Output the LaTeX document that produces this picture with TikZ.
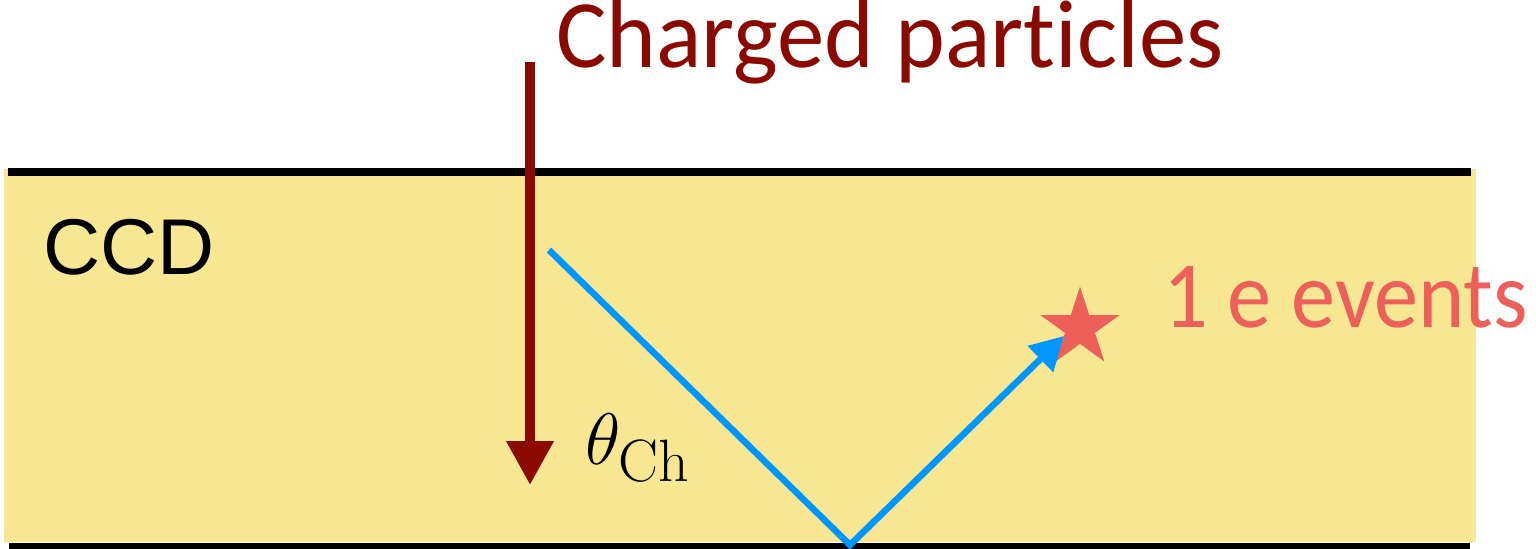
\documentclass[tikz,border=0pt]{standalone}
\usepackage{fontspec}
\usetikzlibrary{arrows.meta,shapes.geometric}
\newfontfamily\gillfont[FakeStretch=0.98,Ligatures=NoCommon]{Carlito}
\newfontfamily\gillevents[FakeStretch=0.93,Ligatures=NoCommon]{Carlito}
\newfontfamily\helvfont{Liberation Sans}
\definecolor{ccdyellow}{RGB}{248,231,146}
\definecolor{particlered}{RGB}{139,10,0}
\definecolor{photonblue}{RGB}{0,150,255}
\definecolor{eventred}{RGB}{236,96,89}
\tikzset{
  edgeline/.style={line width=2.3pt, black},
  particle/.style={line width=2.85pt, particlered, -{Triangle[length=12.5pt,width=12.8pt]}},
  photon/.style={line width=1.85pt, photonblue, line join=miter, -{Triangle[length=9.4pt,width=10pt]}},
  plain/.style={inner sep=0pt, outer sep=0pt},
}
\begin{document}
\begin{tikzpicture}[x=0.01cm,y=-0.01cm]
\useasboundingbox (0,0) rectangle (1536,549);
% CCD slab
\fill[ccdyellow] (4,169) rectangle (1476,541.7);
\draw[edgeline] (8,172) -- (1471,172);
\draw[line width=2pt] (9,546.5) -- (1470,546.5);
% labels
\node[plain, anchor=base west, text=black] (ccd) at (43,275)
  {\helvfont\fontsize{22.5}{26}\selectfont CCD};
\node[plain, anchor=base west, text=particlered] (charged) at (556,68)
  {\gillfont\fontsize{27.5}{32}\selectfont Charged particles};
\node[plain, anchor=base west, text=eventred] (events) at (1163,328)
  {\gillevents\fontsize{27}{32}\selectfont 1 e events};
\node[plain, anchor=base west] (theta) at (585,465)
  {\fontsize{22.3}{26}\selectfont $\theta_{\mbox{\fontsize{17}{20}\selectfont Ch}}$};
% particle track
\coordinate (ptop) at (530,62);
\coordinate (pend) at (530,485);
\draw[particle] (ptop) -- (pend);
% star
\node[star, star points=5, star point ratio=2.618, fill=eventred, minimum size=23.5pt, inner sep=0pt] (star) at (1080,328) {};
% photon path
\coordinate (emit) at (549,250);
\coordinate (bounce) at (850,545);
\coordinate (hit) at (1064,336);
\draw[photon] (emit) -- (bounce) -- (hit);
\end{tikzpicture}
\end{document}
